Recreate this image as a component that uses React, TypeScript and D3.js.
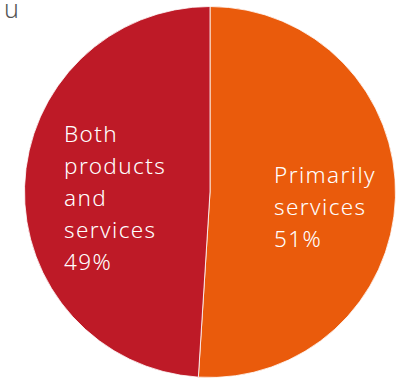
import React from "react";
import * as d3 from "d3";

const categories = ["Primarily services", "Both products and services"];
const values = [51, 49];
const colors = ["#EA5B0C", "#BE1A27"];
const labelLines = [
  ["Primarily", "services", "51%"],
  ["Both", "products", "and", "services", "49%"],
];

const W = 406;
const H = 380;
const cx = 210;
const cy = 192;
const r = 185.5;

export default function App() {
  const pie = d3.pie<number>().sort(null).value((d) => d)(values);
  const arc = d3.arc<d3.PieArcDatum<number>>().innerRadius(0).outerRadius(r);
  const labelPos = [
    { x: 274, y: 183 },
    { x: 64, y: 142 },
  ];
  return (
    <svg
      width={W}
      height={H}
      style={{ position: "absolute", top: 0, left: 0, display: "block" }}
      fontFamily="'Noto Sans', sans-serif"
    >
      <rect width={W} height={H} fill="#fff" />
      <text x={19} y={18} textAnchor="end" fontSize={25} fill="#555" fontWeight={300}>
        u
      </text>
      <g transform={`translate(${cx},${cy})`}>
        {pie.map((p, i) => (
          <path key={categories[i]} d={arc(p) || ""} fill={colors[i]} stroke="#fff" strokeWidth={0.8} />
        ))}
      </g>
      {labelLines.map((lines, i) => (
        <text key={i} x={labelPos[i].x} y={labelPos[i].y} fontSize={22.5} fill="#fff" letterSpacing={1.4} fontWeight={300}>
          {lines.map((l, j) => (
            <tspan key={j} x={labelPos[i].x} y={labelPos[i].y + j * 32}>
              {l}
            </tspan>
          ))}
        </text>
      ))}
    </svg>
  );
}
